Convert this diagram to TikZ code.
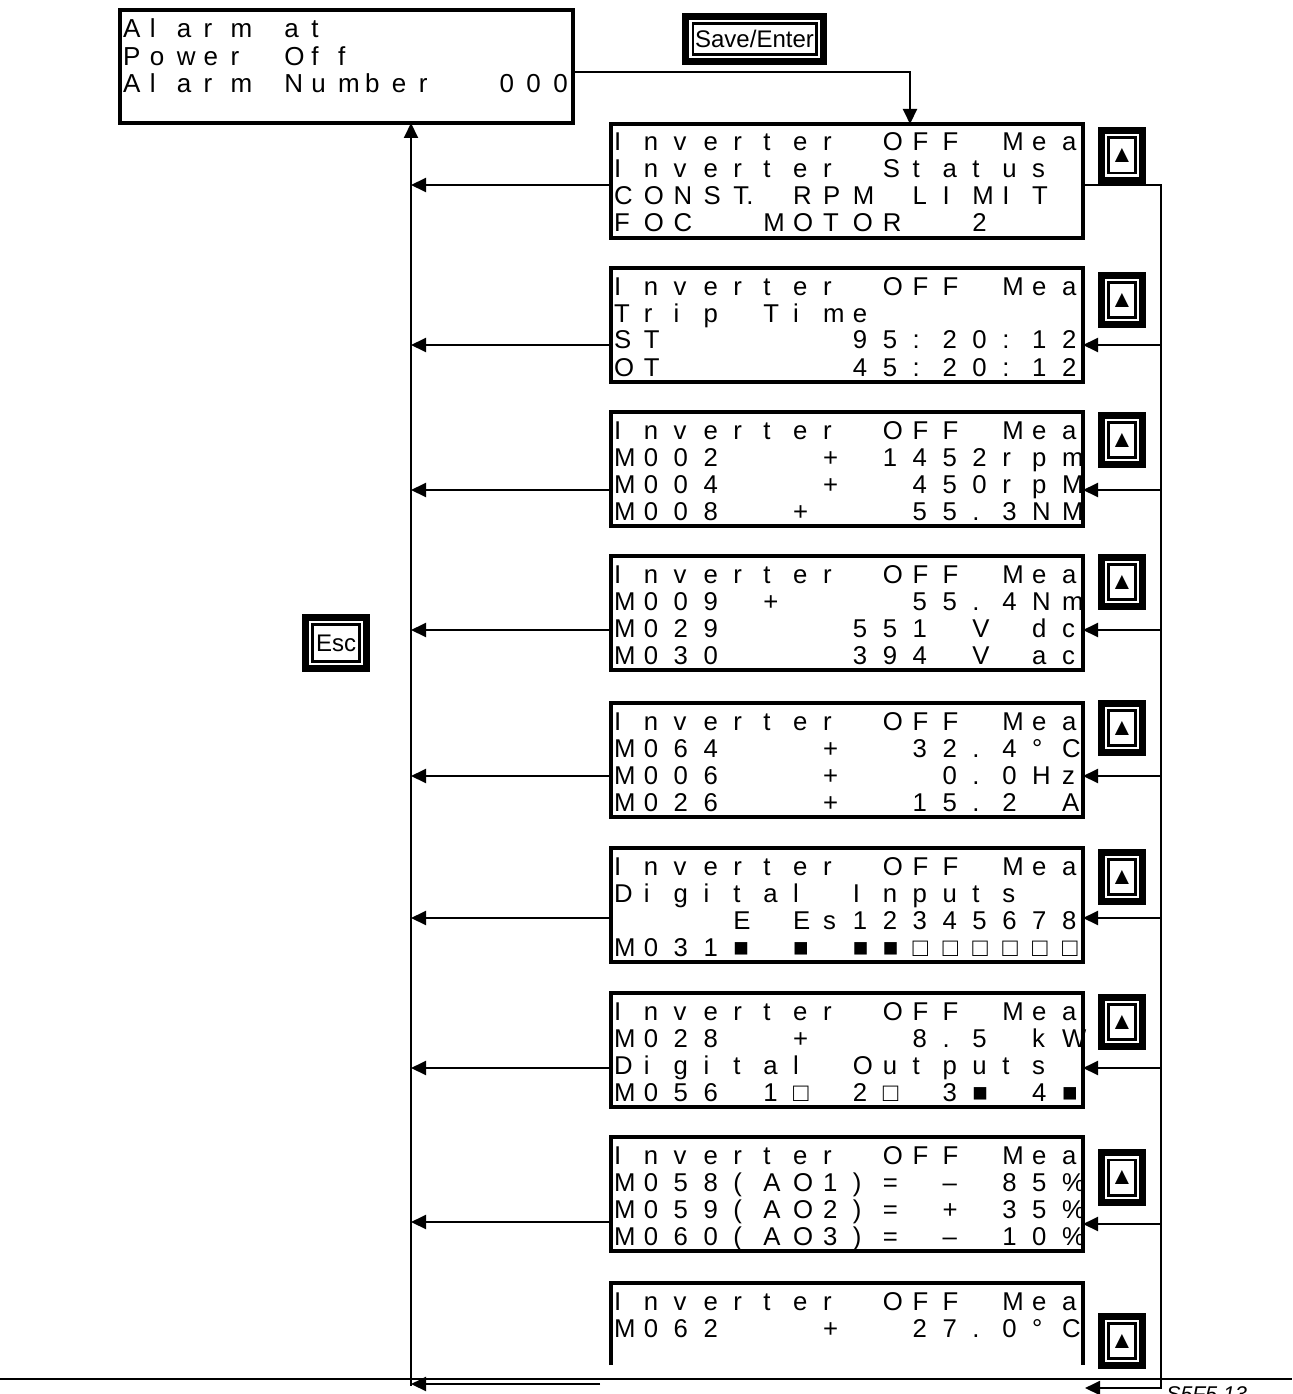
\documentclass[tikz,border=0pt]{standalone}
\usepackage{fontspec}
\setmainfont{Liberation Sans}
\usetikzlibrary{arrows.meta}
\newdimen\px \px=0.75pt
\newdimen\lcdpitch
\newdimen\lcdW
\def\lcdend{LCDEND}
\def\Tdot{T.}
\def\lcdcell#1{\hbox to\lcdpitch{\ifx#1*\else#1\fi\hss}}
\def\lcdloop#1{\ifx#1\lcdend\else\lcdcell#1\expandafter\lcdloop\fi}
\newcommand\lcdrow[1]{\lcdloop#1\lcdend}
\newcommand\lcdline[2]{\hbox to\lcdW{\vrule height#1 depth0pt width0pt\kern3\px\smash{\rlap{\lcdrow{#2}}}\hss}}
\newcommand\lcdscreen[4]{\vbox to114\px{\offinterlineskip\lcdW=472\px\lcdpitch=29.87\px\fontsize{19.3}{27}\selectfont
\lcdline{27\px}{#1}\lcdline{27\px}{#2}\lcdline{27\px}{#3}\lcdline{27\px}{#4}\vss}}
\newcommand\alarmscreen[3]{\vbox to113\px{\offinterlineskip\lcdW=453\px\lcdpitch=26.9\px\fontsize{19.5}{27}\selectfont
\lcdline{28\px}{#1}\lcdline{27.5\px}{#2}\lcdline{27.5\px}{#3}\vss}}
\begin{document}
\begin{tikzpicture}[x=0.75pt,y=-0.75pt,
  screen/.style={draw, line width=3pt, inner sep=0pt, outer sep=0pt, anchor=north west},
  openscreen/.style={inner sep=0pt, outer sep=0pt, anchor=north west},
  border/.style={line width=3pt},
  key/.style 2 args={rectangle, inner sep=0pt, outer sep=0pt, minimum width=#1, minimum height=#2,
    preaction={draw=black, line width=16.1pt},
    preaction={draw=white, line width=5.6pt},
    fill=white, draw=black, line width=1.9pt, font=\fontsize{18}{20}\selectfont},
  upkey/.style={key={19.9pt}{26.6pt}, font=\fontsize{18}{18}\selectfont},
  conn/.style={line width=1.5pt},
  arr/.style={conn, -{Triangle[length=11.25pt,width=10.5pt]}},
  rule/.style={line width=1.1pt}]
\useasboundingbox (0,0) rectangle (1292,1394);

% screens
\node[screen] (s0) at (120,10) {\alarmscreen{Alarm*at}{Power*Off}{Alarm*Number**000}};
\node[screen] (s1) at (611,124) {\lcdscreen{Inverter*OFF*Mea}{Inverter*Status*}{CONS\Tdot*RPM*LIMIT*}{FOC**MOTOR**2***}};
\node[screen] (s2) at (611,268) {\lcdscreen{Inverter*OFF*Mea}{Trip*Time}{ST******95:20:12}{OT******45:20:12}};
\node[screen] (s3) at (611,412) {\lcdscreen{Inverter*OFF*Mea}{M002***+*1452rpm}{M004***+**450rpM}{M008**+***55.3NM}};
\node[screen] (s4) at (611,556) {\lcdscreen{Inverter*OFF*Mea}{M009*+****55.4Nm}{M029****551*V*dc}{M030****394*V*ac}};
\node[screen] (s5) at (611,703) {\lcdscreen{Inverter*OFF*Mea}{M064***+**32.4°C}{M006***+***0.0Hz}{M026***+**15.2*A}};
\node[screen] (s6) at (611,848) {\lcdscreen{Inverter*OFF*Mea}{Digital*Inputs}{****E*Es12345678}{M031■*■*■■□□□□□□}};
\node[screen] (s7) at (611,993) {\lcdscreen{Inverter*OFF*Mea}{M028**+***8.5*kW}{Digital*Outputs}{M056*1□*2□*3■*4■}};
\node[screen] (s8) at (611,1137) {\lcdscreen{Inverter*OFF*Mea}{M058(AO1)=*–*85\%}{M059(AO2)=*+*35\%}{M060(AO3)=*–*10\%}};
\node[openscreen] (s9) at (611,1283) {\lcdscreen{Inverter*OFF*Mea}{M062***+**27.0°C}{}{}};
\coordinate (e9) at (0,1365);
\draw[border] (s9.north west |- e9) -- (s9.north west) -- (s9.north east) -- (s9.north east |- e9);

% keys
\node[key={92.6pt}{22.9pt}] (save) at (754.5,39) {Save/Enter};
\node[key={34.9pt}{27.4pt}] (esc) at (336,643) {Esc};
\node[upkey] (u1) at (1122,155.5) {▲};
\node[upkey] (u2) at (1122,300) {▲};
\node[upkey] (u3) at (1122,440) {▲};
\node[upkey] (u4) at (1122,582) {▲};
\node[upkey] (u5) at (1122,728) {▲};
\node[upkey] (u6) at (1122,877) {▲};
\node[upkey] (u7) at (1122,1022) {▲};
\node[upkey] (u8) at (1122,1177.5) {▲};
\node[upkey] (u9) at (1122,1341) {▲};

% top connector
\coordinate (c0) at (910,72);
\draw[arr] (s0.east |- c0) -- (c0) -- (s1.north -| c0);

% left return line
\coordinate (lb) at (411,1386);
\draw[arr] (lb) -- (s0.south -| lb);
\coordinate (L1) at (411,185);
\coordinate (L2) at (411,345);
\coordinate (L3) at (411,490);
\coordinate (L4) at (411,630);
\coordinate (L5) at (411,776);
\coordinate (L6) at (411,918);
\coordinate (L7) at (411,1068);
\coordinate (L8) at (411,1222);
\coordinate (L9) at (411,1384);
\coordinate (ba) at (600,1384);
\draw[arr] (s1.west |- L1) -- (L1);
\draw[arr] (s2.west |- L2) -- (L2);
\draw[arr] (s3.west |- L3) -- (L3);
\draw[arr] (s4.west |- L4) -- (L4);
\draw[arr] (s5.west |- L5) -- (L5);
\draw[arr] (s6.west |- L6) -- (L6);
\draw[arr] (s7.west |- L7) -- (L7);
\draw[arr] (s8.west |- L8) -- (L8);
\draw[arr] (ba) -- (L9);

% right scroll line
\coordinate (R1) at (1161,185);
\coordinate (R2) at (1161,345);
\coordinate (R3) at (1161,490);
\coordinate (R4) at (1161,630);
\coordinate (R5) at (1161,776);
\coordinate (R6) at (1161,918);
\coordinate (R7) at (1161,1068);
\coordinate (R8) at (1161,1224);
\coordinate (Rb) at (1161,1388);
\coordinate (bt) at (1085,1388);
\draw[arr] (s1.east |- R1) -- (R1) -- (Rb) -- (bt);
\draw[arr] (R2) -- (s2.east |- R2);
\draw[arr] (R3) -- (s3.east |- R3);
\draw[arr] (R4) -- (s4.east |- R4);
\draw[arr] (R5) -- (s5.east |- R5);
\draw[arr] (R6) -- (s6.east |- R6);
\draw[arr] (R7) -- (s7.east |- R7);
\draw[arr] (R8) -- (s8.east |- R8);

% page rule and cut-off figure code
\coordinate (pl) at (0,1379);
\coordinate (pr) at (1292,1379);
\draw[rule] (pl) -- (pr);
\node[anchor=north west, inner sep=0pt, font=\itshape\fontsize{16}{16}\selectfont] (fig) at (1166,1386) {S5F5 13};
\end{tikzpicture}
\end{document}
